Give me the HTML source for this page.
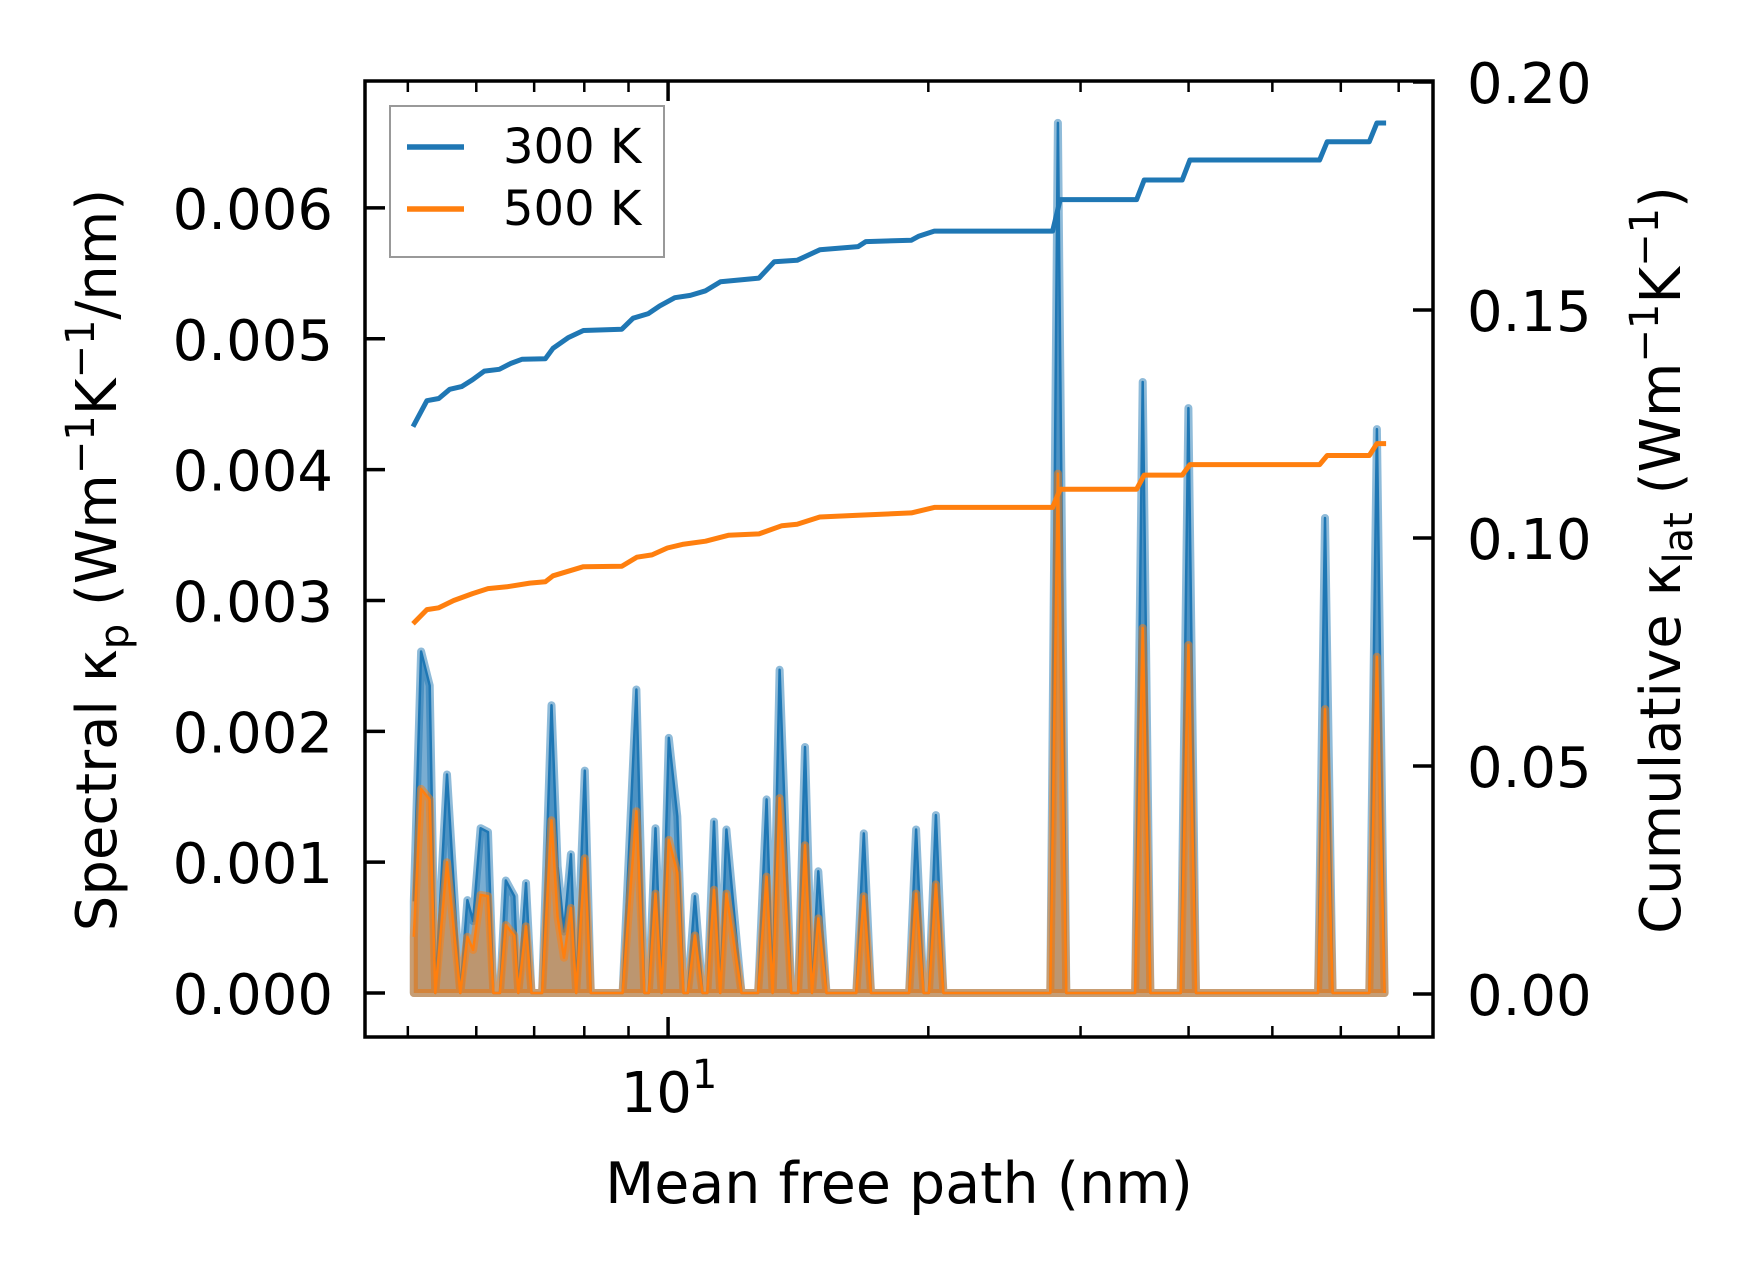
<!DOCTYPE html>
<html><head><meta charset="utf-8"><style>
html,body{margin:0;padding:0;background:#fff;}
svg{display:block;font-family:"DejaVu Sans","Liberation Sans",sans-serif;}
</style></head><body>
<svg id="chart" xmlns="http://www.w3.org/2000/svg" width="1753" height="1274" viewBox="0 0 1753 1274">
<rect width="1753" height="1274" fill="#fff"/>
<g id="plot"></g>
<rect x="365" y="81" width="1068" height="956" fill="none" stroke="#000" stroke-width="3.5"/>
<g id="ticks"></g>
<text x="669" y="1112" font-size="56" text-anchor="middle">10<tspan font-size="40" dy="-24">1</tspan></text>
<text x="899" y="1203" font-size="57" text-anchor="middle">Mean free path (nm)</text>
<text transform="translate(116,560) rotate(-90)" font-size="56" text-anchor="middle">Spectral κ<tspan font-size="40" dy="12">p</tspan><tspan dy="-12"> (Wm</tspan><tspan font-size="40" dy="-22">−1</tspan><tspan dy="22">K</tspan><tspan font-size="40" dy="-22">−1</tspan><tspan dy="22">/nm)</tspan></text>
<text transform="translate(1680,560) rotate(-90)" font-size="56" text-anchor="middle">Cumulative κ<tspan font-size="40" dy="12">lat</tspan><tspan dy="-12"> (Wm</tspan><tspan font-size="40" dy="-22">−1</tspan><tspan dy="22">K</tspan><tspan font-size="40" dy="-22">−1</tspan><tspan dy="22">)</tspan></text>
<g>
<rect x="390" y="106" width="274" height="151" fill="#fff" stroke="#999" stroke-width="2"/>
<line x1="407" y1="147" x2="464" y2="147" stroke="#1f77b4" stroke-width="5.5"/>
<text x="503" y="163" font-size="48">300 K</text>
<line x1="407" y1="209" x2="464" y2="209" stroke="#ff7f0e" stroke-width="5.5"/>
<text x="503" y="225" font-size="48">500 K</text>
</g>
</svg>
<script>
// spectral data (mfp in nm, kappa_p in 1e-3 W/mK/nm)
const specMfp = [5.08,5.18,5.30,5.38,5.55,5.75,5.86,5.95,6.07,6.19,6.28,6.39,6.49,6.64,6.71,6.85,6.95,7.15,7.33,7.45,7.58,7.72,7.83,8.01,8.14,8.86,9.19,9.39,9.50,9.67,9.83,10.02,10.25,10.42,10.54,10.74,10.96,11.10,11.30,11.49,11.68,12.16,12.71,13.00,13.21,13.46,13.88,14.14,14.40,14.67,14.92,15.25,16.51,16.84,17.17,19.00,19.36,19.75,20.03,20.41,20.82,27.68,28.24,28.88,34.69,35.40,36.13,39.17,39.98,40.80,56.48,57.52,58.70,64.73,66.06,67.43];
const spec300 = [0.70,2.61,2.35,0,1.67,0,0.71,0.55,1.26,1.23,0,0,0.86,0.74,0,0.84,0,0,2.20,0.97,0.47,1.06,0,1.70,0,0,2.32,0,0,1.26,0,1.95,1.35,0,0,0.74,0,0,1.31,0,1.25,0,0,1.48,0,2.47,0,0,1.88,0,0.93,0,0,1.22,0,0,1.25,0,0,1.36,0,0,6.65,0,0,4.67,0,0,4.47,0,0,3.63,0,0,4.31,0];
const spec500 = [0.43,1.56,1.48,0,1.00,0,0.43,0.33,0.75,0.74,0,0,0.52,0.44,0,0.51,0,0,1.32,0.58,0.27,0.65,0,1.03,0,0,1.39,0,0,0.76,0,1.17,0.92,0,0,0.44,0,0,0.79,0,0.76,0,0,0.89,0,1.49,0,0,1.13,0,0.57,0,0,0.74,0,0,0.76,0,0,0.83,0,0,3.97,0,0,2.79,0,0,2.66,0,0,2.17,0,0,2.57,0];
// cumulative data (W/mK)
const cumMfp300 = [5.07,5.26,5.43,5.59,5.77,5.94,6.13,6.38,6.58,6.78,7.21,7.36,7.66,7.98,8.84,9.11,9.49,9.78,10.18,10.61,11.05,11.50,12.74,13.27,14.10,14.98,16.59,16.93,19.12,19.51,20.32,27.85,28.42,34.83,35.54,39.33,40.14,56.70,57.87,64.73,66.06,67.70];
const cum300 = [0.1244,0.1301,0.1306,0.1326,0.1332,0.1347,0.1366,0.1370,0.1383,0.1392,0.1393,0.1416,0.1439,0.1455,0.1458,0.1482,0.1492,0.1509,0.1527,0.1532,0.1542,0.1562,0.1570,0.1606,0.1609,0.1632,0.1639,0.1650,0.1653,0.1662,0.1673,0.1673,0.1742,0.1742,0.1785,0.1785,0.1829,0.1829,0.1869,0.1869,0.1910,0.1910];
const cumMfp500 = [5.07,5.26,5.43,5.65,5.94,6.19,6.51,6.92,7.21,7.36,7.66,7.98,8.84,9.20,9.58,9.98,10.39,11.05,11.74,12.74,13.54,14.10,14.98,16.59,19.12,20.32,27.85,28.42,34.83,35.54,39.33,40.14,56.70,57.87,64.73,66.06,67.70];
const cum500 = [0.0812,0.0843,0.0847,0.0863,0.0878,0.0889,0.0893,0.0901,0.0904,0.0917,0.0927,0.0937,0.0938,0.0958,0.0963,0.0978,0.0986,0.0993,0.1006,0.1009,0.1027,0.1030,0.1046,0.1050,0.1055,0.1067,0.1067,0.1107,0.1107,0.1138,0.1138,0.1161,0.1161,0.1181,0.1181,0.1207,0.1207];
const leftTicks = [0,0.001,0.002,0.003,0.004,0.005,0.006];
const leftTickLabels = ["0.000","0.001","0.002","0.003","0.004","0.005","0.006"];
const rightTicks = [0,0.05,0.10,0.15,0.20];
const rightTickLabels = ["0.00","0.05","0.10","0.15","0.20"];
const minorX = [5,6,7,8,9,20,30,40,50,60,70];

const L=365,R=1433,T=81,B=1037;
const xlo=Math.log10(4.461), xhi=Math.log10(76.7);
function X(v){return L+(Math.log10(v)-xlo)/(xhi-xlo)*(R-L);}
const ylo=-0.000336, yhi=0.00697;
function YL(v){return B-(v-ylo)/(yhi-ylo)*(B-T);}
function YR(v){return 994-v/0.05*228;}
const NS="http://www.w3.org/2000/svg";
const plot=document.getElementById('plot'), ticks=document.getElementById('ticks');
function mk(tag,attrs,parent){const e=document.createElementNS(NS,tag);for(const k in attrs)e.setAttribute(k,attrs[k]);parent.appendChild(e);return e;}

function drawSpec(vals,color,fillOp,name){
  const pts=specMfp.map((m,i)=>[X(m),YL(vals[i]*1e-3)]);
  const top=pts.map(p=>p[0].toFixed(1)+','+p[1].toFixed(1)).join(' ');
  const y0=YL(0);
  const poly=top+' '+pts[pts.length-1][0].toFixed(1)+','+y0+' '+pts[0][0].toFixed(1)+','+y0;
  const f=mk('polygon',{points:poly,fill:color,'fill-opacity':fillOp,stroke:color,'stroke-opacity':0.5,'stroke-width':8,'stroke-linejoin':'round'},plot);
  
  
  const l=mk('polyline',{points:top,fill:'none',stroke:color,'stroke-width':2.5,'stroke-linejoin':'round'},plot);
  
  
}
drawSpec(spec300,'#1f77b4',0.6,'spectral-300k');
drawSpec(spec500,'#ff7f0e',0.5,'spectral-500k');

function drawCum(ms,vals,color,name){
  const pts=ms.map((m,i)=>X(m).toFixed(1)+','+YR(vals[i]).toFixed(1)).join(' ');
  const l=mk('polyline',{points:pts,fill:'none',stroke:color,'stroke-width':5,'stroke-linejoin':'round'},plot);
  
  
}
drawCum(cumMfp300,cum300,'#1f77b4','cumulative-300k');
drawCum(cumMfp500,cum500,'#ff7f0e','cumulative-500k');

leftTicks.forEach((v,i)=>{
  const y=YL(v);
  const t=mk('line',{x1:L,x2:L+20,y1:y,y2:y,stroke:'#000','stroke-width':3.5},ticks);
  
  
  const tx=mk('text',{x:333,y:y+21,'font-size':56,'text-anchor':'end'},ticks);
  tx.textContent=leftTickLabels[i];
  
  
});
rightTicks.forEach((v,i)=>{
  const y=YR(v);
  const t=mk('line',{x1:R-20,x2:R,y1:y,y2:y,stroke:'#000','stroke-width':3.5},ticks);
  
  
  const tx=mk('text',{x:1467,y:y+21,'font-size':56,'text-anchor':'start'},ticks);
  tx.textContent=rightTickLabels[i];
  
  
});
[10].forEach(v=>{
  const x=X(v);
  [[B,B-20],[T,T+20]].forEach(p=>{
    const t=mk('line',{x1:x,x2:x,y1:p[0],y2:p[1],stroke:'#000','stroke-width':3.5},ticks);
    
    
  });
});
minorX.forEach(v=>{
  const x=X(v);
  [[B,B-11],[T,T+11]].forEach(p=>{
    const t=mk('line',{x1:x,x2:x,y1:p[0],y2:p[1],stroke:'#000','stroke-width':2.5},ticks);
    
    
  });
});
</script>
</body></html>
